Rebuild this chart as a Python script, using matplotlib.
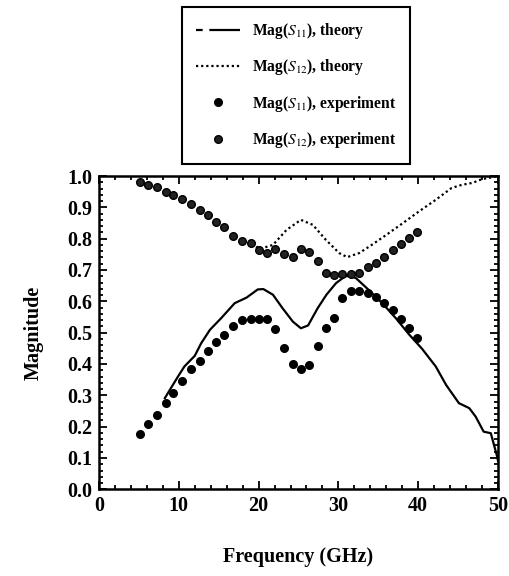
import numpy as np
import matplotlib
matplotlib.use("Agg")
import matplotlib.pyplot as plt

plt.rcParams['font.family'] = ['Liberation Serif', 'DejaVu Serif']
plt.rcParams['mathtext.fontset'] = 'stix'

# measured points (GHz)
freq_exp = [5.1, 6.2, 7.3, 8.4, 9.3, 10.4, 11.5, 12.6, 13.6, 14.7, 15.7, 16.8,
            17.9, 19.0, 20.0, 21.1, 22.1, 23.2, 24.3, 25.3, 26.3, 27.4, 28.4,
            29.5, 30.5, 31.6, 32.6, 33.7, 34.7, 35.7, 36.8, 37.8, 38.8, 39.8]
s11_exp = [0.176, 0.209, 0.236, 0.276, 0.307, 0.346, 0.383, 0.410, 0.441, 0.470,
           0.491, 0.521, 0.540, 0.544, 0.544, 0.544, 0.511, 0.452, 0.399, 0.383,
           0.397, 0.456, 0.514, 0.546, 0.610, 0.634, 0.634, 0.628, 0.615, 0.594,
           0.573, 0.543, 0.516, 0.482]
s12_exp = [0.980, 0.970, 0.964, 0.950, 0.939, 0.927, 0.911, 0.892, 0.876, 0.853,
           0.836, 0.809, 0.794, 0.786, 0.764, 0.753, 0.767, 0.751, 0.741, 0.767,
           0.756, 0.729, 0.690, 0.684, 0.688, 0.687, 0.691, 0.711, 0.722, 0.743,
           0.764, 0.783, 0.802, 0.820]

# theory curves
freq_s11_th = [8.25, 9.9, 10.7, 12.0, 12.8, 13.9, 15.3, 17.0, 18.5, 19.9, 20.6,
               21.8, 23.0, 24.3, 25.3, 26.2, 27.4, 28.5, 29.7, 30.8, 31.4, 32.2,
               33.9, 35.5, 37.2, 38.9, 40.5, 42.2, 43.5, 45.1, 46.4, 47.2, 48.2,
               49.1, 49.9, 50.0]
s11_th = [0.291, 0.360, 0.392, 0.426, 0.466, 0.509, 0.546, 0.594, 0.612, 0.638,
          0.639, 0.621, 0.578, 0.535, 0.514, 0.523, 0.578, 0.621, 0.658, 0.679,
          0.682, 0.674, 0.634, 0.594, 0.546, 0.493, 0.448, 0.392, 0.333, 0.275,
          0.259, 0.232, 0.184, 0.179, 0.104, 0.09]
freq_s12_th = [19.7, 20.1, 21.8, 23.5, 25.3, 26.8, 28.4, 30.1, 31.1, 32.6, 34.0,
               36.0, 38.1, 40.1, 42.2, 44.2, 45.5, 46.8, 48.0, 49.5, 50.0]
s12_th = [0.775, 0.767, 0.780, 0.828, 0.860, 0.844, 0.797, 0.754, 0.741, 0.754,
          0.777, 0.812, 0.850, 0.887, 0.924, 0.962, 0.972, 0.978, 0.990, 0.997, 1.0]

fig = plt.figure(figsize=(5.1, 5.76), dpi=100)
ax = fig.add_axes([99/510, 1-489.3/576, 399/510, 313.3/576])

ax.plot(freq_s11_th, s11_th, color='black', lw=1.6, label=r'Mag($S_{11}$), theory')
ax.plot(freq_s12_th, s12_th, color='black', lw=1.6, linestyle=(0, (1, 1.3)),
        label=r'Mag($S_{12}$), theory')
ax.plot(freq_exp, s11_exp, 'o', color='black', ms=5.5, label=r'Mag($S_{11}$), experiment')
ax.plot(freq_exp, s12_exp, 'o', color='black', ms=5.5, mfc='#222222',
        label=r'Mag($S_{12}$), experiment')

ax.set_xlim(0, 50)
ax.set_ylim(0, 1.0)
ax.set_xticks(np.arange(0, 51, 10))
ax.set_xticks(np.arange(0, 51, 2), minor=True)
ax.set_yticks(np.arange(0, 1.01, 0.1))
ax.set_yticks(np.arange(0, 1.001, 0.02), minor=True)
ax.set_yticklabels([f'{v:.1f}' for v in np.arange(0, 1.01, 0.1)])
ax.tick_params(which='both', direction='in', top=True, right=True, width=1.3)
ax.tick_params(which='major', length=6, labelsize=14.5, pad=5)
ax.tick_params(which='minor', length=3)
for lab in ax.get_xticklabels() + ax.get_yticklabels():
    lab.set_fontweight('bold')
for sp in ax.spines.values():
    sp.set_linewidth(1.8)

ax.set_xlabel('Frequency (GHz)', fontsize=14.5, fontweight='bold', labelpad=22)
ax.set_ylabel('Magnitude', fontsize=14.5, fontweight='bold', labelpad=17)

leg = ax.legend(loc='upper left', bbox_to_anchor=(182/510, 1-7/576),
                bbox_transform=fig.transFigure, fancybox=False, edgecolor='black',
                prop={'size': 11.2, 'weight': 'bold'}, handlelength=2.8,
                labelspacing=1.05, numpoints=1, borderpad=0.9, borderaxespad=0,
                framealpha=1)
leg.get_frame().set_linewidth(1.5)
leg.get_lines()[0].set_linestyle((0, (3, 3, 14, 0)))

fig.savefig('out.png', dpi=100)
